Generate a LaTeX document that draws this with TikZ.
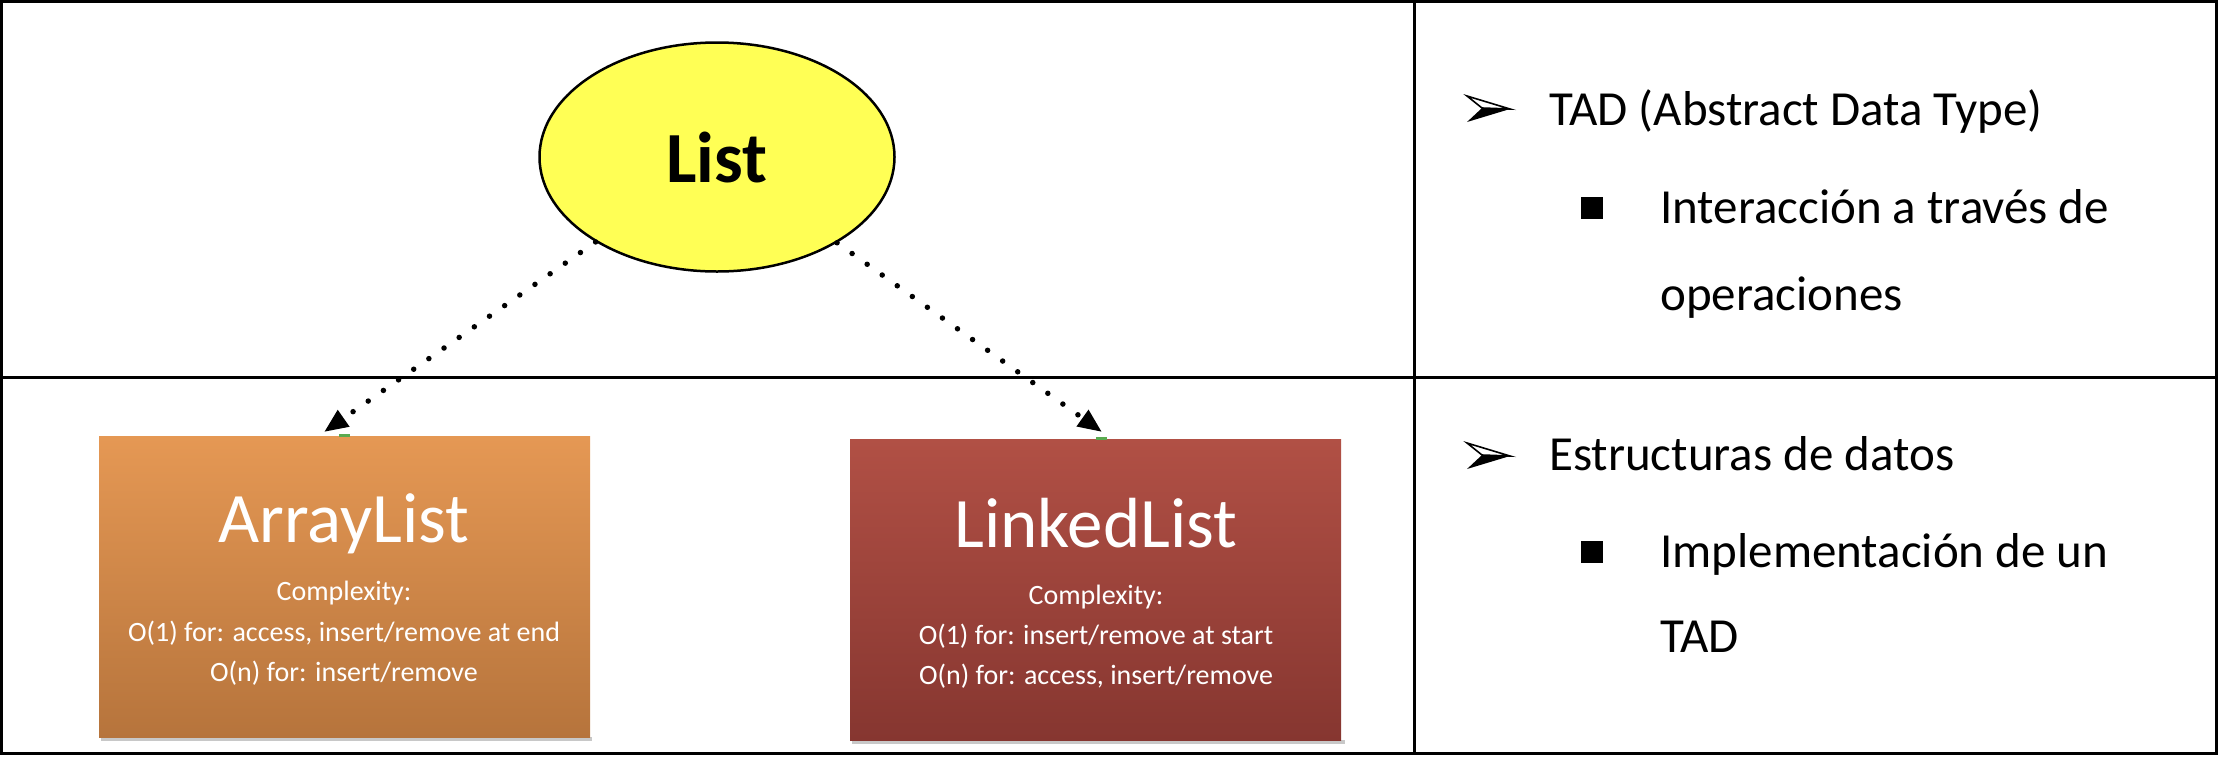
\documentclass[tikz,border=0pt]{standalone}
\usepackage{fontspec}
\setmainfont{Carlito}
\usetikzlibrary{arrows.meta,shapes.geometric}

\definecolor{listyellow}{RGB}{255,255,85}
\definecolor{altop}{RGB}{229,152,84}
\definecolor{albot}{RGB}{182,116,60}
\definecolor{lltop}{RGB}{177,80,69}
\definecolor{llbot}{RGB}{134,54,48}
\definecolor{shadowgray}{RGB}{200,200,200}
\definecolor{markgreen}{RGB}{90,170,80}

\begin{document}
\begin{tikzpicture}[x=1pt,y=-1pt,
  gridline/.style={line width=3pt, black},
  implbox/.style={rectangle, inner sep=0pt, minimum width=491pt, minimum height=301pt, anchor=north west},
  boxtitle/.style={anchor=base, inner sep=0pt, text=white, font=\fontsize{71}{80}\selectfont},
  boxline/.style={anchor=base, inner sep=0pt, text=white, font=\fontsize{28}{34}\selectfont},
  conn/.style={line width=5.5pt, line cap=round, dash pattern=on 0pt off 18.5pt, -{Triangle[length=24pt,width=19pt]}},
  bigtext/.style={anchor=base west, inner sep=0pt, font=\fontsize{49}{59}\selectfont},
  sqbullet/.style={fill=black, inner sep=0pt, minimum size=22pt},
  dartbullet/.pic={
    \fill[black] (15,12) -- (43,13) -- (0,26) -- cycle;
    \draw[black, line width=1.6pt, line join=miter] (0,0) -- (43,13) -- (15,12) -- cycle;
  }
]
\useasboundingbox (0,0) rectangle (2218,756);

% table
\draw[gridline] (1.5,1.5) rectangle (2216.5,753.5);
\draw[gridline] (1414,1.5) -- (1414,753.5);
\draw[gridline] (1.5,377) -- (2216.5,377);

% shadows of boxes
\fill[shadowgray] (101,737) rectangle (592,741);
\fill[shadowgray] (852,740) rectangle (1345,744);

% implementation boxes
\node[implbox, top color=altop, bottom color=albot] (al) at (99,436) {};
\node[implbox, top color=lltop, bottom color=llbot] (ll) at (850,439) {};
\fill[markgreen] (339,434) rectangle (350,437);
\fill[markgreen] (1096,437) rectangle (1107,440);

\node[boxtitle] (altitle) at (344,542) {ArrayList};
\node[boxline] (alc) at (344,600) {Complexity:};
\node[boxline] (al1) at (344,641) {O(1) for: access, insert/remove at end};
\node[boxline] (aln) at (344,681) {O(n) for: insert/remove};

\node[boxtitle] (lltitle) at (1096,547) {LinkedList};
\node[boxline] (llc) at (1096,604) {Complexity:};
\node[boxline] (ll1) at (1096,644) {O(1) for: insert/remove at start};
\node[boxline] (lln) at (1096,684) {O(n) for: access, insert/remove};

% abstract list
\node[ellipse, draw=black, line width=2.5pt, fill=listyellow, minimum width=355pt, minimum height=229pt, inner sep=0pt,
      font=\bfseries\fontsize{72}{80}\selectfont] (list) at (717,157) {List};

\coordinate (altip) at (324,432);
\coordinate (lltip) at (1102,432);
\draw[conn] (list) -- (altip);
\draw[conn] (list) -- (lltip);

% right column
\pic at (1467,96) {dartbullet};
\node[bigtext] (t1) at (1549,125) {TAD (Abstract Data Type)};
\node[sqbullet] (s1) at (1592,208) {};
\node[bigtext] (t2) at (1660,223) {Interacción a través de};
\node[bigtext] (t3) at (1660,310) {operaciones};

\pic at (1467,443) {dartbullet};
\node[bigtext] (t4) at (1549,470) {Estructuras de datos};
\node[sqbullet] (s2) at (1592,552) {};
\node[bigtext] (t5) at (1660,567) {Implementación de un};
\node[bigtext] (t6) at (1660,652) {TAD};
\end{tikzpicture}
\end{document}
